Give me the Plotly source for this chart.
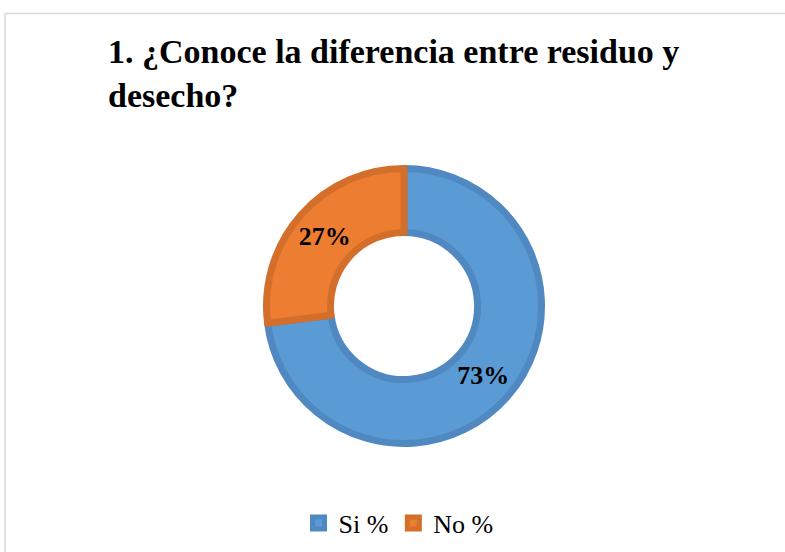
import plotly.graph_objects as go

# Survey answers for question 1
categories = ["Si %", "No %"]
values = [73, 27]
fill_colors = ["#5B9BD5", "#ED7D31"]
edge_colors = ["#5089C2", "#D46F2B"]
title_text = "1. ¿Conoce la diferencia entre residuo y<br>desecho?"

W, H = 785, 552
cx, cy, r = 404, 306, 137.5  # donut centre and radius in pixels

fig = go.Figure(
    go.Pie(
        labels=categories,
        values=values,
        hole=0.535,
        sort=False,
        direction="clockwise",
        rotation=0,
        marker=dict(colors=fill_colors, line=dict(color=edge_colors, width=7)),
        texttemplate="%{percent:.0%}",
        textposition="inside",
        insidetextorientation="horizontal",
        textfont=dict(family="Liberation Serif", size=26, color="black", weight="bold"),
        hoverinfo="label+percent",
        domain=dict(x=[(cx - r) / W, (cx + r) / W], y=[1 - (cy + r) / H, 1 - (cy - r) / H]),
    )
)

fig.update_layout(
    width=W,
    height=H,
    margin=dict(l=0, r=0, t=0, b=0),
    paper_bgcolor="white",
    plot_bgcolor="white",
    annotations=[dict(
        text=f"<b>{title_text}</b>",
        xref="paper", yref="paper",
        x=106 / W, y=1 - 73 / H,
        xanchor="left", yanchor="middle", align="left",
        showarrow=False,
        font=dict(family="Liberation Serif", size=34, color="black"),
    )],
    legend=dict(
        orientation="h",
        x=0.5 + 6 / W,
        xanchor="center",
        y=(H - 523) / H,
        yanchor="middle",
        font=dict(family="Liberation Serif", size=26, color="black"),
        itemwidth=30,
        traceorder="normal",
    ),
    shapes=[
        dict(type="line", xref="paper", yref="paper",
             x0=5 / W, x1=1.01, y0=1 - 13.5 / H, y1=1 - 13.5 / H,
             line=dict(color="#D9D9D9", width=1.5)),
        dict(type="line", xref="paper", yref="paper",
             x0=5 / W, x1=5 / W, y0=1 - 13.5 / H, y1=-0.01,
             line=dict(color="#D9D9D9", width=1.5)),
    ],
)

fig.write_html("out.html")
